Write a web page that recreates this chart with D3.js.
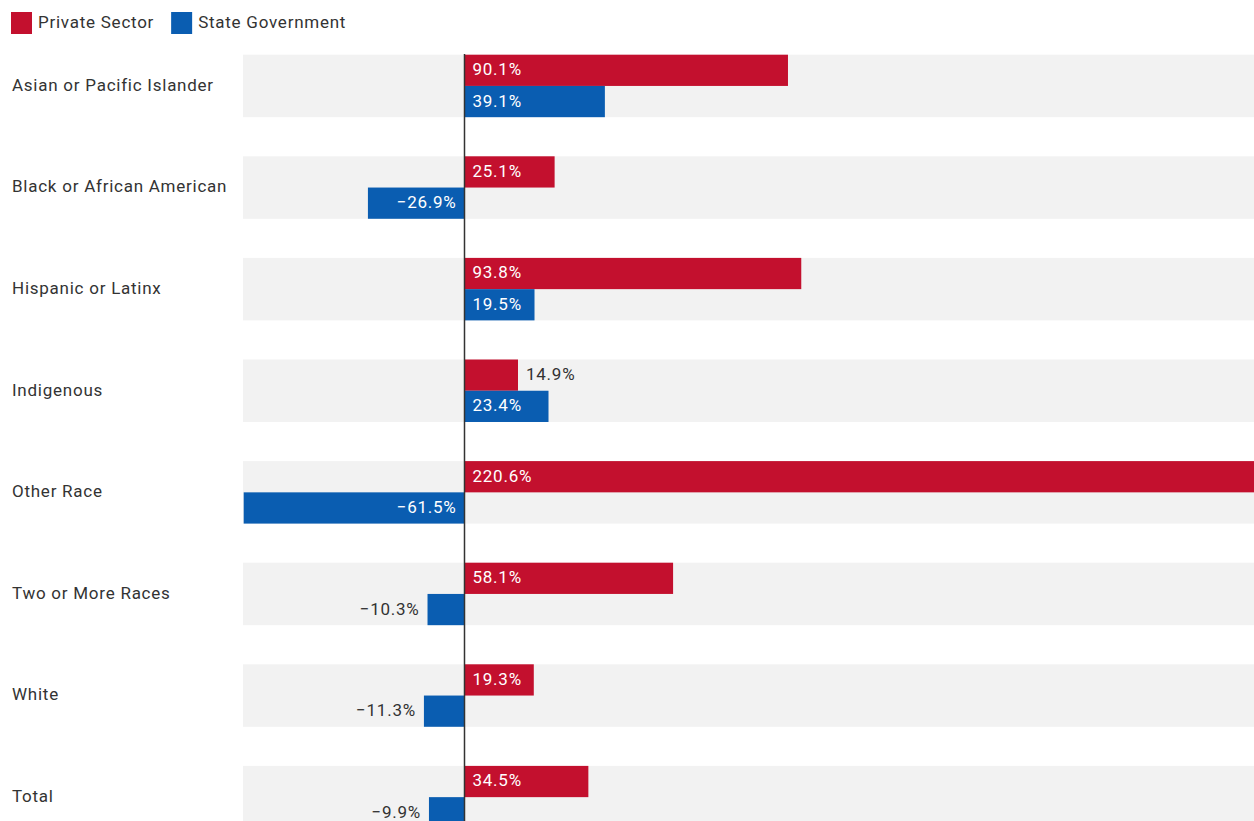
<!DOCTYPE html>
<html><head><meta charset="utf-8">
<script src="https://cdn.jsdelivr.net/npm/d3@7"></script>
<style>
body{margin:0;background:#fff;}
svg{display:block;font-family:Roboto,"Noto Sans",sans-serif;}
text{letter-spacing:0.75px;}
</style></head><body>
<svg id="c" width="1254" height="821"></svg>
<script>
const categories = ["Asian or Pacific Islander","Black or African American","Hispanic or Latinx","Indigenous","Other Race","Two or More Races","White","Total"];
const seriesNames = ["Private Sector","State Government"];
const privateSector = [90.1,25.1,93.8,14.9,220.6,58.1,19.3,34.5];
const stateGovernment = [39.1,-26.9,19.5,23.4,-61.5,-10.3,-11.3,-9.9];
const colors = ["#c3102e","#0a5db1"];

const svg = d3.select("#c");
const W = 1254, H = 821;
const x0 = 243.7, x1 = 1256.5;
const FS = 17;
const x = d3.scaleLinear().domain([-61.5, 220.6]).range([x0, x1]);
const step = 101.6, pin = 0.385;
const y = d3.scaleBand().domain(categories).range([54.7, 54.7 + step*(categories.length - pin)]).paddingInner(pin).paddingOuter(0);
const ys = d3.scaleBand().domain(seriesNames).range([0, y.bandwidth()]);

const rows = categories.map((c,i)=>({cat:c, vals:[privateSector[i], stateGovernment[i]]}));

// legend
const leg = svg.append("g");
let lx = 11;
seriesNames.forEach((s,i)=>{
  leg.append("rect").attr("x",lx).attr("y",12).attr("width",21).attr("height",22).attr("fill",colors[i]);
  const t = leg.append("text").attr("x",lx+27).attr("y",22).attr("dy","0.35em").attr("font-size",FS).attr("fill","#333").text(s);
  lx += 27 + t.node().getComputedTextLength() + 17;
});

// bands
svg.append("g").selectAll("rect").data(rows).join("rect")
  .attr("x",243).attr("width",W-243).attr("y",d=>y(d.cat)).attr("height",y.bandwidth()).attr("fill","#f2f2f2");

// category labels
svg.append("g").selectAll("text").data(rows).join("text")
  .attr("x",12).attr("y",d=>y(d.cat)+y.bandwidth()/2-1).attr("dy","0.35em")
  .attr("font-size",FS).attr("fill","#333").text(d=>d.cat);

// bars
const g = svg.append("g");
rows.forEach(r=>{
  r.vals.forEach((v,j)=>{
    const by = y(r.cat)+ys(seriesNames[j]);
    const bh = ys.bandwidth();
    const xa = x(Math.min(0,v)), xb = x(Math.max(0,v));
    g.append("rect").attr("x",xa).attr("y",by).attr("width",xb-xa).attr("height",bh).attr("fill",colors[j]);
    const label = (v<0?"\u2212":"")+Math.abs(v).toFixed(1)+"%";
    const t = g.append("text").attr("y",by+bh/2-1).attr("dy","0.35em").attr("font-size",FS).text(label);
    const tw = t.node().getComputedTextLength();
    const inside = (xb-xa) >= tw + 16;
    if(v>=0){
      if(inside){ t.attr("x",x(0)+8).attr("fill","#fff"); }
      else { t.attr("x",xb+8).attr("fill","#333"); }
    } else {
      t.attr("text-anchor","end");
      if(inside){ t.attr("x",x(0)-8).attr("fill","#fff"); }
      else { t.attr("x",xa-8).attr("fill","#333"); }
    }
  });
});

// zero line
svg.append("line").attr("x1",x(0)).attr("x2",x(0)).attr("y1",54).attr("y2",H).attr("stroke","#333").attr("stroke-width",1.5);
</script>
</body></html>
